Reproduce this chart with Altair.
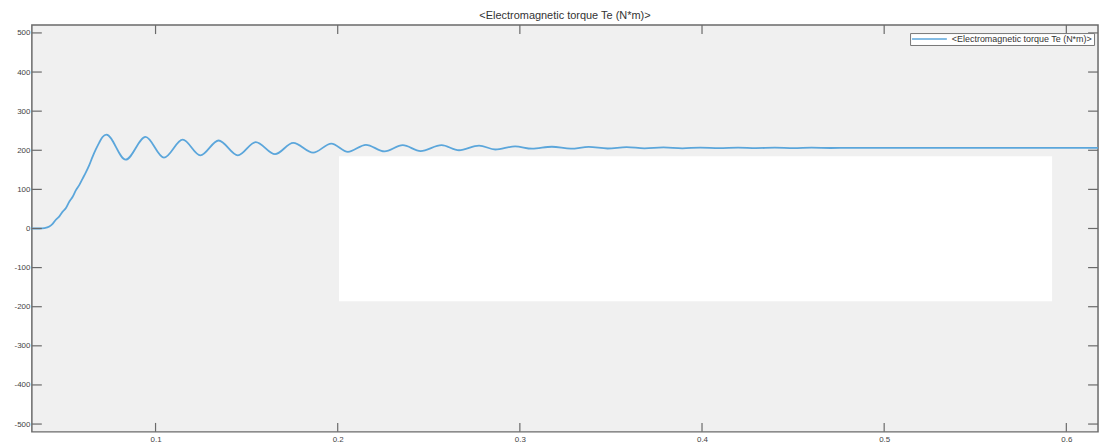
import altair as alt
import pandas as pd

# ---- data ----
series_name = "<Electromagnetic torque Te (N*m)>"

time_s = [
    0.0321, 0.0363, 0.0390, 0.0417, 0.0435, 0.0454, 0.0472, 0.0490, 0.0509, 0.0527,
    0.0545, 0.0563, 0.0581, 0.0599, 0.0618, 0.0636, 0.0654, 0.0672, 0.0690, 0.0709,
    0.0730, 0.0836, 0.0945, 0.1046, 0.1149, 0.1246, 0.1346, 0.1452, 0.1550, 0.1656,
    0.1756, 0.1865, 0.1965, 0.2056, 0.2155, 0.2257, 0.2357, 0.2455, 0.2570, 0.2666,
    0.2776, 0.2865, 0.2974, 0.3067, 0.3176, 0.3280, 0.3378, 0.3482, 0.3586, 0.3684,
    0.3788, 0.3892, 0.3990, 0.4094, 0.4198, 0.4296, 0.4400, 0.4503, 0.4602, 0.4706,
    0.4809, 0.5200, 0.5600, 0.6174,
]
torque_nm = [
    0, 0, 1, 5, 12, 23, 31, 43, 53, 69,
    81, 98, 111, 127, 144, 162, 183, 202, 219, 234,
    240, 176, 234, 181, 227, 187, 225, 187, 221, 190,
    219, 194, 217, 196, 214, 197, 213, 198, 213, 200,
    212, 202, 210, 204, 209, 204, 208.5, 204.5, 208, 205,
    207.5, 205, 207, 205.5, 207, 205.5, 206.5, 205.5, 206.5, 205.8,
    206.3, 206, 206, 206,
]

x_tick_values = [0.1, 0.2, 0.3, 0.4, 0.5, 0.6]
y_tick_values = [-500, -400, -300, -200, -100, 0, 100, 200, 300, 400, 500]

x_domain = [0.0321, 0.6174]
y_domain = [-520, 520]

# white blank patch visible in the reference (data coordinates)
blank_x = [0.2007, 0.5922]
blank_y = [-186, 185]

# ---- styling ----
W, H = 1072, 409
LINE_COL = "#5ba6db"
FRAME_COL = "#6a6a6a"
TEXT_COL = "#444444"
FONT = "Liberation Sans"

xs = alt.Scale(domain=x_domain, nice=False, zero=False)
ys = alt.Scale(domain=y_domain, nice=False, zero=False)

x_axis = alt.Axis(values=x_tick_values, format=".1f", title=None, domain=False, ticks=False,
                  grid=False, labelFontSize=8, labelColor=TEXT_COL, labelFont=FONT, labelPadding=4)
y_axis = alt.Axis(values=y_tick_values, labelExpr="'' + datum.value", title=None, domain=False,
                  ticks=False, grid=False, labelFontSize=8, labelColor=TEXT_COL, labelFont=FONT,
                  labelPadding=2)

line_df = pd.DataFrame({"t": time_s, "te": torque_nm, "series": series_name})

blank = alt.Chart(pd.DataFrame({"x1": [blank_x[0]], "x2": [blank_x[1]],
                                "y1": [blank_y[0]], "y2": [blank_y[1]]})).mark_rect(
    color="white", strokeWidth=0
).encode(
    x=alt.X("x1:Q", scale=xs, axis=x_axis),
    x2="x2:Q",
    y=alt.Y("y1:Q", scale=ys, axis=y_axis),
    y2="y2:Q",
)

line = alt.Chart(line_df).mark_line(strokeWidth=1.8, interpolate="monotone", clip=True).encode(
    x=alt.X("t:Q", scale=xs, axis=x_axis),
    y=alt.Y("te:Q", scale=ys, axis=y_axis),
    color=alt.Color(
        "series:N",
        scale=alt.Scale(range=[LINE_COL]),
        legend=alt.Legend(
            title=None, orient="none", legendX=883, legendY=8,
            symbolType="M-1,0H7.75", symbolSize=64, symbolStrokeWidth=1.5,
            labelFontSize=9, labelFont=FONT, labelColor="#333333",
            padding=1, strokeColor="#777777", fillColor="white", labelOffset=31,
        ),
    ),
)

ytick_df = pd.DataFrame({"v": y_tick_values})
xtick_df = pd.DataFrame({"v": x_tick_values})

left_ticks = alt.Chart(ytick_df).mark_rule(color=FRAME_COL, strokeWidth=1.2).encode(
    y=alt.Y("v:Q", scale=ys, axis=y_axis), x=alt.value(0), x2=alt.value(10))
right_ticks = alt.Chart(ytick_df).mark_rule(color=FRAME_COL, strokeWidth=1.2).encode(
    y=alt.Y("v:Q", scale=ys, axis=y_axis), x=alt.value(W), x2=alt.value(W - 10))
bottom_ticks = alt.Chart(xtick_df).mark_rule(color=FRAME_COL, strokeWidth=1.2).encode(
    x=alt.X("v:Q", scale=xs, axis=x_axis), y=alt.value(H), y2=alt.value(H - 9))
top_ticks = alt.Chart(xtick_df).mark_rule(color=FRAME_COL, strokeWidth=1.2).encode(
    x=alt.X("v:Q", scale=xs, axis=x_axis), y=alt.value(0), y2=alt.value(9))

chart = alt.layer(blank, line, left_ticks, right_ticks, bottom_ticks, top_ticks).properties(
    width=W,
    height=H,
    padding={"left": 24, "top": 16, "right": 4, "bottom": 12},
    autosize=alt.AutoSizeParams(type="none"),
    background="white",
    title=alt.TitleParams(text=series_name, fontSize=11, font=FONT, color="#333333",
                          fontWeight="normal", offset=4, anchor="middle"),
).configure_view(
    fill="#f0f0f0", stroke=FRAME_COL, strokeWidth=1.5
)

chart.save("out.html", embed_options={"renderer": "svg", "actions": False})
